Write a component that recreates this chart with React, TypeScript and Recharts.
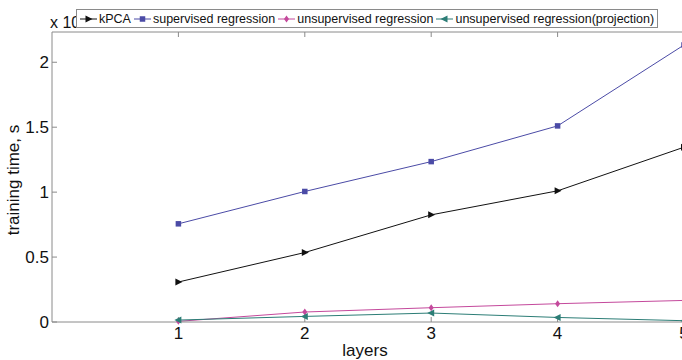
import React from 'react';
import { LineChart, Line, XAxis, YAxis, Legend, Label } from 'recharts';

const layers = [1, 2, 3, 4, 5];
const kpca = [0.308, 0.535, 0.825, 1.01, 1.346];
const supervised = [0.756, 1.005, 1.235, 1.51, 2.133];
const unsupervised = [0.005, 0.077, 0.11, 0.141, 0.166];
const projection = [0.015, 0.043, 0.069, 0.035, 0.01];
const xTicks = [1, 2, 3, 4, 5];
const yTicks = [0, 0.5, 1, 1.5, 2];

const data = layers.map((l, i) => ({
  layer: l,
  kpca: kpca[i],
  supervised: supervised[i],
  unsupervised: unsupervised[i],
  projection: projection[i],
}));

const FONT = '"Liberation Sans", Arial, sans-serif';
const AXIS = '#8a8a8a';

const series = [
  { key: 'kpca', name: 'kPCA', color: '#111111', shape: 'right' },
  { key: 'supervised', name: 'supervised regression', color: '#4b4ba6', shape: 'square' },
  { key: 'unsupervised', name: 'unsupervised regression', color: '#c4499c', shape: 'diamond' },
  { key: 'projection', name: 'unsupervised regression(projection)', color: '#2c7d76', shape: 'left' },
];

const Marker = ({ shape, color, cx, cy }: { shape: string; color: string; cx: number; cy: number }) => {
  if (shape === 'right')
    return <polygon points={`${cx + 4},${cy} ${cx - 3},${cy - 3.5} ${cx - 3},${cy + 3.5}`} fill={color} />;
  if (shape === 'left')
    return <polygon points={`${cx - 4},${cy} ${cx + 3},${cy - 3.5} ${cx + 3},${cy + 3.5}`} fill={color} />;
  if (shape === 'square') return <rect x={cx - 2.75} y={cy - 2.75} width={5.5} height={5.5} fill={color} />;
  return <polygon points={`${cx},${cy - 3.5} ${cx + 2.5},${cy} ${cx},${cy + 3.5} ${cx - 2.5},${cy}`} fill={color} />;
};

const dotFor = (shape: string, color: string) => (props: any) => {
  const { cx, cy, index } = props;
  if (cx == null || cy == null) return <g key={`${shape}-${index}`} />;
  return (
    <g key={`${shape}-${index}`}>
      <Marker shape={shape} color={color} cx={cx} cy={cy} />
    </g>
  );
};

const LegendBox = () => (
  <div
    style={{
      display: 'flex',
      alignItems: 'center',
      gap: 3,
      background: '#fff',
      border: `1px solid ${AXIS}`,
      height: 17,
      padding: '0 3px',
      fontFamily: FONT,
      fontSize: 12.5,
      color: '#111',
      whiteSpace: 'nowrap',
    }}
  >
    {series.map((s) => (
      <div key={s.key} style={{ display: 'flex', alignItems: 'center', gap: 2 }}>
        <svg width={17} height={10}>
          <line x1={0} y1={5} x2={17} y2={5} stroke={s.color} strokeWidth={1} />
          <Marker shape={s.shape} color={s.color} cx={8.5} cy={5} />
        </svg>
        <span>{s.name}</span>
      </div>
    ))}
  </div>
);

const hiddenTick = () => <g />;

export default function App() {
  return (
    <div style={{ position: 'absolute', left: 0, top: 0, width: 682, height: 360, overflow: 'hidden', background: '#fff' }}>
      <div style={{ position: 'absolute', left: 50, top: 14, fontFamily: FONT, fontSize: 16, color: '#111' }}>x 10</div>
      <LineChart width={700} height={360} data={data} margin={{ top: 32, right: 16, bottom: 0, left: 12 }}>
        <XAxis
          dataKey="layer"
          type="number"
          domain={[0, 5]}
          ticks={xTicks}
          height={38}
          stroke={AXIS}
          tickSize={-5}
          tickMargin={10}
          tick={{ fontSize: 17, fill: '#111', fontFamily: FONT }}
        >
          <Label value="layers" position="center" dy={9} dx={-3} style={{ fontSize: 17, fill: '#111', fontFamily: FONT }} />
        </XAxis>
        <XAxis
          xAxisId="top"
          dataKey="layer"
          type="number"
          orientation="top"
          domain={[0, 5]}
          ticks={xTicks}
          mirror
          stroke={AXIS}
          tickSize={5}
          tick={hiddenTick}
        />
        <YAxis
          type="number"
          domain={[0, 2.233]}
          ticks={yTicks}
          width={40}
          stroke={AXIS}
          tickSize={-5}
          tickMargin={8}
          tick={{ fontSize: 17, fill: '#111', fontFamily: FONT }}
        >
          <Label value="training time, s" angle={-90} position="center" dx={-19} dy={3} style={{ fontSize: 17, fill: '#111', fontFamily: FONT, textAnchor: 'middle' }} />
        </YAxis>
        <YAxis
          yAxisId="right"
          orientation="right"
          type="number"
          domain={[0, 2.233]}
          ticks={yTicks}
          mirror
          stroke={AXIS}
          tickSize={5}
          tick={hiddenTick}
        />
        <Legend
          layout="vertical"
          align="center"
          verticalAlign="middle"
          wrapperStyle={{ top: 9, left: 76 }}
          content={() => <LegendBox />}
        />
        {series.map((s) => (
          <Line
            key={s.key}
            dataKey={s.key}
            name={s.name}
            stroke={s.color}
            strokeWidth={1}
            dot={dotFor(s.shape, s.color)}
            activeDot={false}
            isAnimationActive={false}
          />
        ))}
      </LineChart>
    </div>
  );
}
